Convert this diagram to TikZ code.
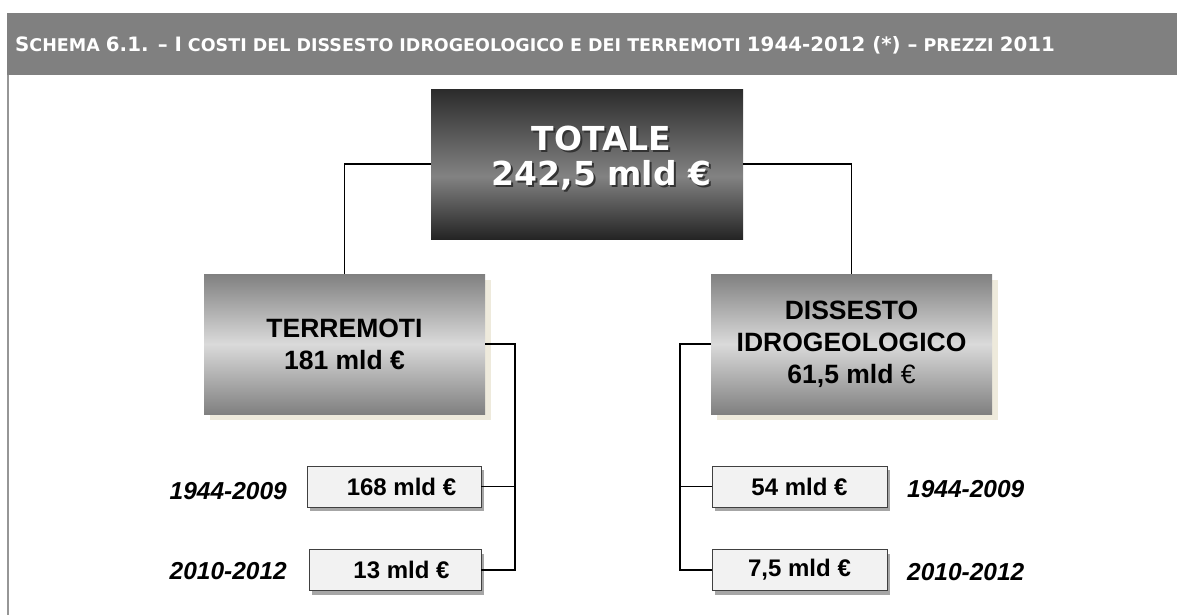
\documentclass[tikz,border=0pt]{standalone}
\usepackage{fontspec}
\setmainfont{Liberation Sans}
\newfontfamily\heavy{DejaVu Sans}
\usetikzlibrary{shadows}
\definecolor{hdr}{RGB}{128,128,128}
\definecolor{leftbar}{RGB}{150,150,150}
\definecolor{dk}{RGB}{36,36,36}
\definecolor{dk2}{RGB}{44,44,44}
\definecolor{lt}{RGB}{130,130,130}
\definecolor{midg}{RGB}{128,128,128}
\definecolor{lightg}{RGB}{218,218,218}
\definecolor{beige}{RGB}{238,234,220}
\definecolor{boxfill}{RGB}{242,242,242}
\pgfdeclareverticalshading{totsh}{100bp}{color(0bp)=(dk); color(25bp)=(dk); color(46bp)=(lt); color(75bp)=(dk2); color(100bp)=(dk2)}
\newcommand\bigc[1]{{\fontsize{19.8}{19.8}\selectfont #1}}
\tikzset{
  conn/.style={draw=black, line width=1.4pt},
  lvtwo/.style={rectangle, minimum width=281pt, minimum height=140pt, inner sep=0pt,
     top color=midg, bottom color=midg, middle color=lightg, align=center,
     font=\fontsize{26.5}{32}\selectfont\bfseries},
  shad/.style={fill=beige, draw=none},
  leaf/.style={rectangle, draw=black!75, line width=0.9pt, fill=boxfill, inner sep=0pt,
     minimum height=41pt, font=\fontsize{24}{24}\selectfont\bfseries,
     drop shadow={shadow xshift=3pt, shadow yshift=-4pt, fill=black, opacity=0.35}},
  yearlab/.style={font=\fontsize{24.5}{24.5}\selectfont\bfseries\itshape, inner sep=0pt},
}
\begin{document}
\begin{tikzpicture}[x=1pt,y=-1pt]
\useasboundingbox (0,0) rectangle (1177,615);
% header
\fill[hdr] (7,13) rectangle (1177,75);
\draw[leftbar, line width=2pt] (8,75) -- (8,615);
\node[anchor=base west, inner sep=0pt, text=white, font=\fontsize{17.5}{17.5}\selectfont\heavy\bfseries] (title) at (15,51.5)
  {\bigc{S}CHEMA \bigc{6.1. – I} COSTI DEL DISSESTO IDROGEOLOGICO E DEI TERREMOTI \bigc{1944-2012 (*) –} PREZZI \bigc{2011}};
% top box
\node[rectangle, minimum width=312pt, minimum height=149pt, inner sep=0pt, shading=totsh] (tot) at (587,164.5) {};
\node[text=black!80, align=center, font=\fontsize{33}{35.5}\selectfont\heavy\bfseries] at (603.5,160) {TOTALE\\242,5 mld €};
\node[text=white, align=center, font=\fontsize{33}{35.5}\selectfont\heavy\bfseries] (tottext) at (601.5,158) {TOTALE\\242,5 mld €};
% level 2
\fill[shad] (210,280) rectangle (491,420);
\fill[shad] (717,280) rectangle (998,420);
\node[lvtwo] (ter) at (344.5,344) {TERREMOTI\\181 mld €};
\node[lvtwo] (dis) at (851.5,344) {DISSESTO\\IDROGEOLOGICO\\61,5 mld {\mdseries €}};
% leaves
\node[leaf, minimum width=174pt] (b1) at (394,486.5) {\hspace*{15pt}168 mld €};
\node[leaf, minimum width=172pt] (b2) at (395,570) {\hspace*{13pt}13 mld €};
\node[leaf, minimum width=175pt] (c1) at (799.5,486.5) {54 mld €};
\node[leaf, minimum width=175pt] (c2) at (799.5,570) {7,5 mld €};
% year labels
\node[yearlab, anchor=base east] (ly1) at (287,499) {1944-2009};
\node[yearlab, anchor=base east] (ly2) at (287,579) {2010-2012};
\node[yearlab, anchor=base west] (ry1) at (907,497) {1944-2009};
\node[yearlab, anchor=base west] (ry2) at (907,580) {2010-2012};
% connectors
\draw[conn] (tot.west |- 0,164) -| (ter.north);
\draw[conn] (tot.east |- 0,164) -| (dis.north);
\coordinate (lj) at (515,344);
\coordinate (rj) at (680,344);
\draw[conn] (ter.east) -- (lj) |- (b2.east);
\draw[conn] (b1.east) -- (b1.east -| lj);
\draw[conn] (dis.west) -- (rj) |- (c2.west);
\draw[conn] (c1.west) -- (c1.west -| rj);
\end{tikzpicture}
\end{document}
